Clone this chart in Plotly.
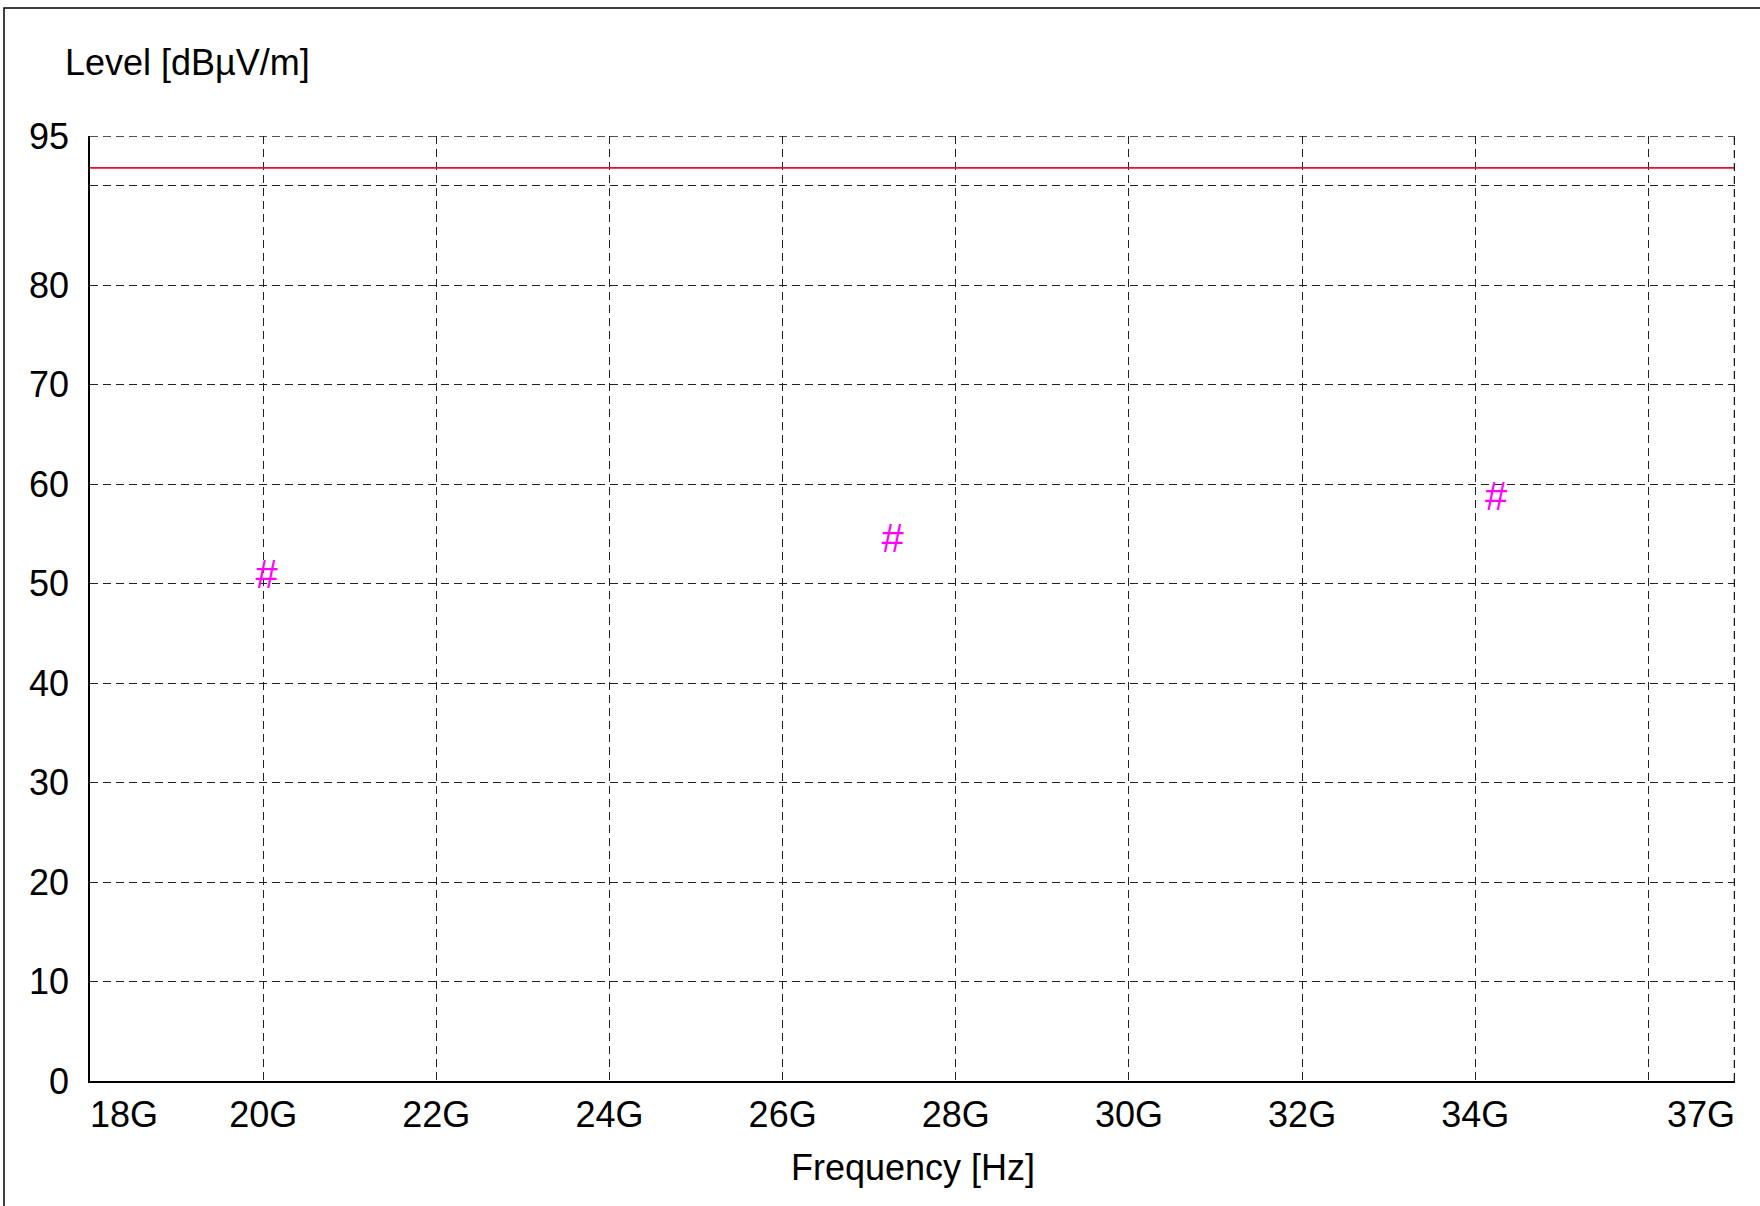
import plotly.graph_objects as go

# Data (frequency in GHz, level in dBµV/m)
marker_freq_ghz = [20.04, 27.27, 34.24]
marker_level = [50.55, 54.2, 58.4]
limit_freq_ghz = [18.0, 37.0]
limit_level = [91.8, 91.8]

x_tickvals = [18, 20, 22, 24, 26, 28, 30, 32, 34, 36, 37]
x_ticktext = ["", "20G", "22G", "24G", "26G", "28G", "30G", "32G", "34G", "", ""]
y_tickvals = [0, 10, 20, 30, 40, 50, 60, 70, 80, 90, 95]
y_ticktext = ["0", "10", "20", "30", "40", "50", "60", "70", "80", "", "95"]

FONT = "Liberation Sans, Arial, sans-serif"
FS = 36
W, H = 1760, 1206
ML, MR, MT, MB = 90, 25, 136, 125
PW, PH = W - ML - MR, H - MT - MB

fig = go.Figure()
fig.add_trace(go.Scatter(x=limit_freq_ghz, y=limit_level, mode="lines",
                         line=dict(color="rgb(232,10,55)", width=1.6),
                         showlegend=False, hoverinfo="skip"))
fig.add_trace(go.Scatter(x=marker_freq_ghz, y=marker_level, mode="text",
                         text=["#"] * len(marker_freq_ghz),
                         textfont=dict(color="#FF00FF", size=40, family=FONT),
                         textposition="middle center", showlegend=False))

grid = dict(showgrid=True, gridcolor="#222222", gridwidth=1.2, griddash="8px,5px")

fig.update_xaxes(range=[18, 37], tickvals=x_tickvals, ticktext=x_ticktext,
                 showline=True, linecolor="black", linewidth=1.5, mirror=False,
                 zeroline=False, ticks="", tickfont=dict(size=FS, family=FONT, color="black"),
                 ticklabelstandoff=1, automargin=False, **grid)
fig.update_yaxes(range=[0, 95], tickvals=y_tickvals, ticktext=y_ticktext,
                 showline=True, linecolor="black", linewidth=1.5, mirror=False,
                 zeroline=False, ticks="", tickfont=dict(size=FS, family=FONT, color="black"),
                 ticklabelstandoff=12, automargin=False, **grid)

def py(pix):
    """paper y from a pixel row"""
    return (H - MB - pix) / PH

def px(pix):
    return (pix - ML) / PW

annotations = [
    dict(text="Level [dBµV/m]", xref="paper", yref="paper",
         x=px(63), y=py(63), xanchor="left", yanchor="middle",
         showarrow=False, font=dict(size=FS, family=FONT, color="black")),
    dict(text="Frequency [Hz]", xref="paper", yref="paper",
         x=0.5, y=py(1167), xanchor="center", yanchor="middle",
         showarrow=False, font=dict(size=FS, family=FONT, color="black")),
    dict(text="18G", xref="x", yref="paper", x=18, y=py(1114),
         xanchor="left", yanchor="middle", showarrow=False, xshift=-2,
         font=dict(size=FS, family=FONT, color="black")),
    dict(text="37G", xref="x", yref="paper", x=37, y=py(1114),
         xanchor="right", yanchor="middle", showarrow=False, xshift=2,
         font=dict(size=FS, family=FONT, color="black")),
]

shapes = [
    dict(type="rect", xref="paper", yref="paper",
         x0=px(4), x1=1.2, y0=-0.3, y1=py(8),
         line=dict(color="black", width=1.5), fillcolor="rgba(0,0,0,0)", layer="below"),
    # dashed frame at the top (95) and right (37G) edges
    dict(type="line", xref="x", yref="y", x0=18, x1=37, y0=95, y1=95,
         line=dict(color="#1a1a1a", width=1.5, dash="8px,5px")),
    dict(type="line", xref="x", yref="y", x0=37, x1=37, y0=0, y1=95,
         line=dict(color="#1a1a1a", width=2.5, dash="8px,5px")),
]

fig.update_layout(width=W, height=H, margin=dict(l=ML, r=MR, t=MT, b=MB),
                  paper_bgcolor="white", plot_bgcolor="white",
                  annotations=annotations, shapes=shapes,
                  font=dict(family=FONT, color="black"))

fig.write_html("out.html", config={"displayModeBar": False},
               post_script="document.body.style.margin='0';document.body.style.overflow='hidden';")
